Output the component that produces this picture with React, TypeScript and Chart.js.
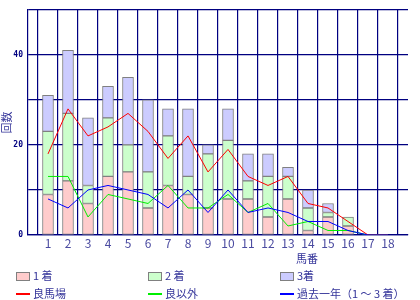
import React, { useEffect, useRef } from "react";
import { Chart, registerables } from "chart.js";

Chart.register(...registerables);

const categories = ["", "1", "2", "3", "4", "5", "6", "7", "8", "9", "10", "11", "12", "13", "14", "15", "16", "17", "18", ""];
const first = [null, 9, 12, 7, 13, 14, 6, 11, 9, 6, 8, 8, 4, 8, 1, 4, 2, 0, 0, null];
const second = [null, 14, 15, 4, 13, 6, 8, 11, 4, 12, 13, 4, 9, 5, 5, 1, 2, 0, 0, null];
const third = [null, 8, 14, 15, 7, 15, 16, 6, 15, 2, 7, 6, 5, 2, 4, 2, 0, 0, 0, null];
const goodTrack = [null, 18, 28, 22, 24, 27, 23, 17, 22, 14, 19, 13, 11, 13, 7, 6, 3, 0, 0, null];
const otherTrack = [null, 13, 13, 4, 9, 8, 7, 11, 6, 6, 9, 5, 7, 2, 3, 1, 1, 0, 0, null];
const pastYear = [null, 8, 6, 10, 11, 10, 9, 6, 10, 5, 10, 5, 6, 5, 3, 3, 1, 0, 0, null];
const seriesLabels = ["1 着", "2 着", "3着", "良馬場", "良以外", "過去一年（1 ～ 3 着）"];
const xTitle = "馬番";
const yTitle = "回数";

const NAVY = "#000080";
const TEXT = "#333399";
const JP = '"Noto Sans CJK JP", "Noto Sans", sans-serif';

const legendPlugin = {
  id: "gridLegend",
  afterDraw(chart: any) {
    const ctx = chart.ctx;
    ctx.save();
    ctx.font = `11px ${JP}`;
    ctx.fillStyle = TEXT;
    ctx.textBaseline = "middle";
    ctx.textAlign = "center";
    ctx.fillText(xTitle, 307, 259);
    ctx.textAlign = "left";
    chart.data.datasets.forEach((ds: any, i: number) => {
      const col = i % 3;
      const row = Math.floor(i / 3);
      const x = 16 + col * 132;
      const y = 276 + row * 18;
      if (ds.type === "bar") {
        ctx.fillStyle = ds.backgroundColor;
        ctx.fillRect(x + 0.5, y - 3.5, 13, 8);
        ctx.strokeStyle = "#808080";
        ctx.lineWidth = 1;
        ctx.strokeRect(x + 0.5, y - 3.5, 13, 8);
      } else {
        ctx.fillStyle = ds.borderColor;
        ctx.fillRect(x, y - 1, 14, 2);
      }
      ctx.fillStyle = TEXT;
      ctx.fillText(ds.label, x + 17, y);
    });
    ctx.restore();
  },
};

export default function App() {
  const ref = useRef<HTMLCanvasElement>(null);
  useEffect(() => {
    if (!ref.current) return;
    const barCommon = {
      type: "bar" as const,
      borderColor: "#808080",
      borderWidth: 1,
      borderSkipped: false,
      barThickness: 11,
      stack: "bars",
      order: 10,
    };
    const lineCommon = {
      type: "line" as const,
      borderWidth: 1,
      pointRadius: 0,
      fill: false,
      tension: 0,
    };
    const chart = new Chart(ref.current, {
      data: {
        labels: categories,
        datasets: [
          { ...barCommon, label: seriesLabels[0], data: first, backgroundColor: "#ffcccc" },
          { ...barCommon, label: seriesLabels[1], data: second, backgroundColor: "#ccffcc" },
          { ...barCommon, label: seriesLabels[2], data: third, backgroundColor: "#ccccff" },
          { ...lineCommon, label: seriesLabels[3], data: goodTrack, borderColor: "#ff0000", backgroundColor: "#ff0000", stack: "l1", order: 2 },
          { ...lineCommon, label: seriesLabels[4], data: otherTrack, borderColor: "#00ee00", backgroundColor: "#00ee00", stack: "l2", order: 3 },
          { ...lineCommon, label: seriesLabels[5], data: pastYear, borderColor: "#0000ff", backgroundColor: "#0000ff", stack: "l3", order: 1 },
        ] as any,
      },
      options: {
        animation: false,
        responsive: false,
        maintainAspectRatio: false,
        layout: { padding: { top: 5, right: 12, bottom: 45, left: 0 } },
        plugins: { legend: { display: false }, tooltip: { enabled: false } },
        scales: {
          x: {
            stacked: true,
            offset: false,
            grid: { color: NAVY, lineWidth: 1.2, drawTicks: false },
            border: { color: NAVY, width: 1.2 },
            ticks: {
              padding: 1,
              autoSkip: false,
              maxRotation: 0,
              color: "#4a4aa0",
              font: { family: JP, size: 12 },
            },
            afterFit: (s: any) => {
              s.height = 20;
            },
          },
          y: {
            stacked: true,
            min: 0,
            max: 50,
            grid: { color: NAVY, lineWidth: 1.2, drawTicks: false },
            border: { color: NAVY, width: 1.2 },
            ticks: {
              stepSize: 10,
              padding: 5,
              color: NAVY,
              font: { family: '"DejaVu Sans Mono", monospace', size: 8, weight: "bold" },
              callback: (v: any) => (Number(v) % 20 === 0 ? String(v) : ""),
            },
            title: {
              display: true,
              text: yTitle,
              color: TEXT,
              padding: 0,
              font: { family: JP, size: 11 },
            },
            afterFit: (s: any) => {
              s.width = 28;
            },
          },
        },
      },
      plugins: [legendPlugin],
    } as any);
    return () => chart.destroy();
  }, []);
  return (
    <div style={{ position: "fixed", left: 0, top: 0, width: 420, height: 300, background: "#fff" }}>
      <canvas ref={ref} width={420} height={300} style={{ width: 420, height: 300 }} />
    </div>
  );
}
